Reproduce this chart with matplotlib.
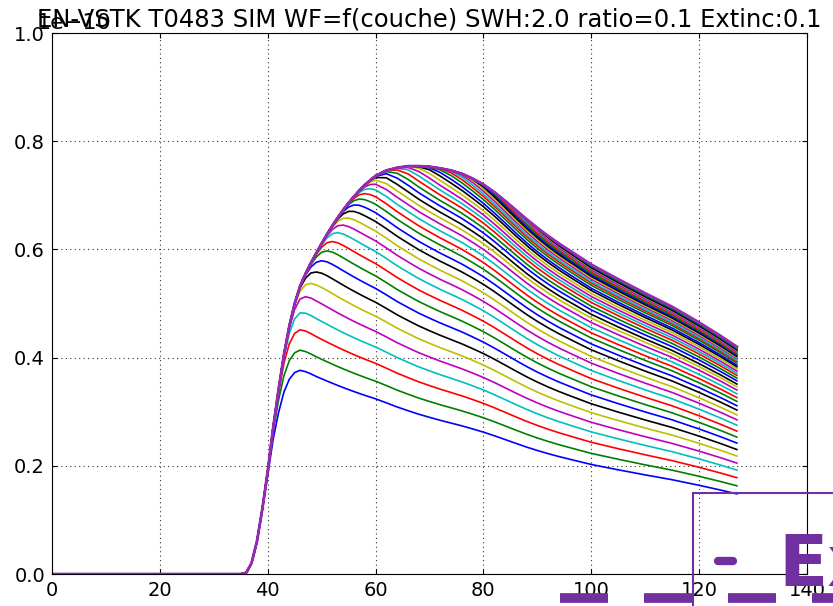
import numpy as np
import matplotlib
matplotlib.use("Agg")
import matplotlib.pyplot as plt
from matplotlib.lines import Line2D
from matplotlib.patches import Rectangle

# envelope waveform (top purple curve), values in units of 1e-10
env_x = [0, 35, 36, 37, 38, 39, 40, 41, 42, 43, 44, 45, 46, 47, 48, 49, 50, 51, 52, 53, 54, 55,
         56, 57, 58, 59, 60, 62, 64, 66, 68, 70, 72, 74, 76, 78, 80, 82, 84, 86, 88, 90, 92, 94,
         96, 98, 100, 105, 110, 115, 120, 124, 127]
env_y = [0, 0, 0.002, 0.02, 0.06, 0.12, 0.19, 0.27, 0.34, 0.405, 0.458, 0.500, 0.532, 0.555,
         0.575, 0.593, 0.611, 0.628, 0.644, 0.659, 0.673, 0.686, 0.698, 0.709, 0.719, 0.728,
         0.736, 0.746, 0.751, 0.754, 0.754, 0.753, 0.750, 0.746, 0.740, 0.731, 0.720, 0.706,
         0.690, 0.673, 0.656, 0.640, 0.625, 0.611, 0.598, 0.585, 0.572, 0.545, 0.519, 0.494,
         0.465, 0.440, 0.420]

# per-layer curves: sample where each curve leaves the envelope, value at last sample
onset = [40.0, 41.5, 43.0, 44.3, 45.6, 46.8, 47.9, 49.0, 50.0, 51.0, 52.0, 52.9, 53.8, 54.7, 55.6,
         56.5, 57.4, 58.3, 59.2, 60.1, 61.2, 62.3, 63.4, 64.6, 65.8, 67.0, 68.3, 69.6, 70.9, 72.2,
         73.5, 74.8, 76.1, 77.4, 78.7, 80.0, 81.3, 82.6, 83.9, 85.2, 86.5, 87.8, 89.1, 90.4]
end_vals = [0.148, 0.163, 0.178, 0.192, 0.205, 0.218, 0.230, 0.242, 0.253, 0.264, 0.275, 0.285,
            0.294, 0.303, 0.311, 0.319, 0.326, 0.333, 0.340, 0.346, 0.351, 0.357, 0.362, 0.367,
            0.371, 0.375, 0.379, 0.383, 0.386, 0.390, 0.393, 0.395, 0.398, 0.400, 0.402, 0.404,
            0.406, 0.408, 0.410, 0.411, 0.413, 0.414, 0.416, 0.417]

old_colors = ["b", "g", "r", "c", "m", "y", "k"]
title = "EN-VSTK T0483 SIM WF=f(couche) SWH:2.0 ratio=0.1 Extinc:0.1"

fig = plt.figure(figsize=(8.33, 6.06), dpi=100)
ax = fig.add_axes([0.0624, 0.0528, 0.9064, 0.8927])

x = np.array(env_x, dtype=float)
env = np.array(env_y)
decay = 10.0
soft = 1.0
for k in range(len(onset)):
    frac = end_vals[k] / env[-1]
    sp = soft * np.logaddexp(0, (x - onset[k]) / soft)
    ratio = frac + (1 - frac) * np.exp(-sp / decay)
    ax.plot(x, env * ratio * 1e-10, color=old_colors[k % 7], lw=1.2)

ax.plot(x, env * 1e-10, color="#9a2ab5", lw=2.0)

ax.set_xlim(0, 140)
ax.set_ylim(0, 1e-10)
ax.set_xticks(range(0, 141, 20))
ax.set_yticks(np.arange(0, 1.01, 0.2) * 1e-10)
ax.grid(True, color="#333333", linestyle=(0, (1, 3)), linewidth=0.8)
ax.tick_params(direction="in", top=True, right=True, labelsize=14, pad=5)
ax.set_title(title, fontsize=17.5, y=1.0, pad=4.5)
ax.yaxis.get_offset_text().set_fontsize(16)
ax.yaxis.get_offset_text().set_x(-0.02)

# purple overlay box in the lower right corner
purple = "#7030a0"
W, H = 833.0, 606.0
fig.add_artist(Rectangle((693 / W, -0.1), 0.5, (H - 493) / H + 0.1, transform=fig.transFigure,
                         fill=False, edgecolor=purple, lw=1.5))
fig.text(778 / W, (H - 586) / H, "Ex", color=purple, fontsize=52, fontweight="bold")
fig.add_artist(Line2D([718 / W, 733 / W], [(H - 561) / H] * 2, color=purple, lw=6,
                      solid_capstyle="round", transform=fig.transFigure))
for x0 in [560, 644, 728, 812]:
    fig.add_artist(Line2D([x0 / W, (x0 + 48) / W], [(H - 598) / H] * 2, color=purple, lw=7,
                          solid_capstyle="butt", transform=fig.transFigure))

fig.savefig("out.png", dpi=100)
